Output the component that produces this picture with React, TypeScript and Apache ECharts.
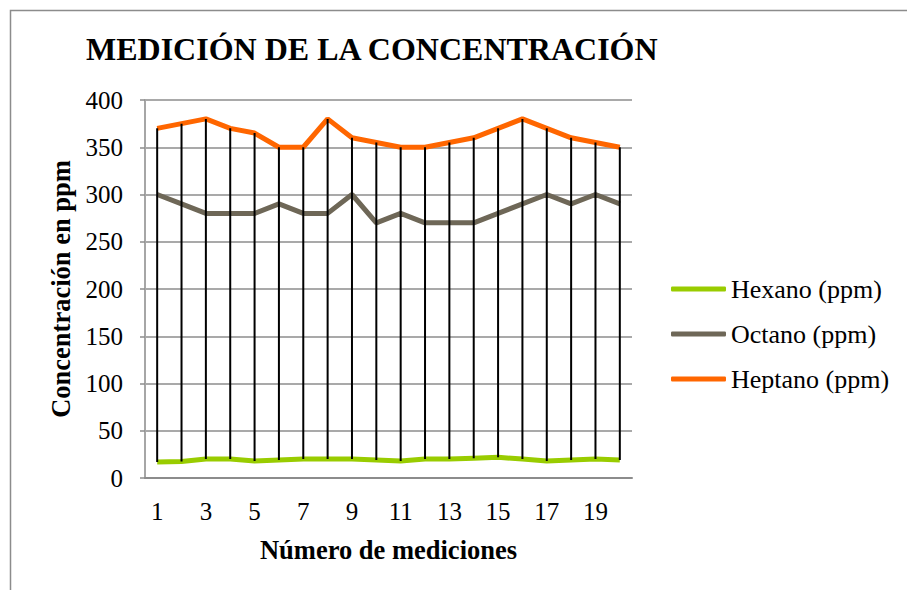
import React, { useEffect, useRef } from "react";
import * as echarts from "echarts";

const categories = ["1","2","3","4","5","6","7","8","9","10","11","12","13","14","15","16","17","18","19","20"];
const hexano = [17, 17.5, 20, 20, 18, 19, 20, 20, 20, 19, 18, 20, 20, 21, 22, 20, 18, 19, 20, 19];
const octano = [300, 290, 280, 280, 280, 290, 280, 280, 300, 270, 280, 270, 270, 270, 280, 290, 300, 290, 300, 290];
const heptano = [370, 375, 380, 370, 365, 350, 350, 380, 360, 355, 350, 350, 355, 360, 370, 380, 370, 360, 355, 350];
const seriesNames = ["Hexano (ppm)", "Octano (ppm)", "Heptano (ppm)"];
const titleText = "MEDICIÓN DE LA CONCENTRACIÓN";
const xAxisName = "Número de mediciones";
const yAxisName = "Concentración en ppm";

const FONT = "'Liberation Serif', 'Times New Roman', serif";

export default function App() {
  const ref = useRef<HTMLDivElement>(null);
  useEffect(() => {
    if (!ref.current) return;
    const chart = echarts.init(ref.current, undefined, { renderer: "svg" });
    const hl = categories.map((_, i) => [
      i,
      Math.min(hexano[i], octano[i], heptano[i]),
      Math.max(hexano[i], octano[i], heptano[i]),
    ]);
    chart.setOption({
      animation: false,
      backgroundColor: "#ffffff",
      textStyle: { fontFamily: FONT, color: "#000" },
      title: {
        text: titleText,
        left: 86,
        top: 33,
        padding: 0,
        textStyle: { fontFamily: FONT, fontSize: 32, fontWeight: "bold", color: "#000" },
      },
      graphic: [
        {
          type: "rect",
          shape: { x: 10.5, y: 10.5, width: 2000, height: 2000 },
          style: { fill: "none", stroke: "#8c8c8c", lineWidth: 1.5 },
          silent: true,
          z: -1,
        },
      ],
      legend: {
        orient: "vertical",
        left: 671,
        top: 276,
        padding: 0,
        itemWidth: 55,
        itemHeight: 5,
        itemGap: 19,
        icon: "roundRect",
        data: seriesNames,
        textStyle: { fontFamily: FONT, fontSize: 26, color: "#000" },
      },
      grid: { left: 145, top: 100, right: 275, bottom: 112 },
      xAxis: {
        type: "category",
        data: categories,
        boundaryGap: true,
        name: xAxisName,
        nameLocation: "middle",
        nameGap: 58,
        nameTextStyle: { fontFamily: FONT, fontSize: 26.5, fontWeight: "bold", color: "#000" },
        axisLine: { lineStyle: { color: "#8c8c8c", width: 2 } },
        axisTick: { show: false },
        axisLabel: { interval: 1, margin: 21, fontFamily: FONT, fontSize: 25, color: "#000" },
        splitLine: { show: false },
      },
      yAxis: {
        type: "value",
        min: 0,
        max: 400,
        interval: 50,
        name: yAxisName,
        nameLocation: "middle",
        nameGap: 70,
        nameTextStyle: { fontFamily: FONT, fontSize: 26.5, fontWeight: "bold", color: "#000" },
        axisLine: { show: true, lineStyle: { color: "#a6a6a6", width: 2 } },
        axisTick: { show: true, length: 5, lineStyle: { color: "#8c8c8c", width: 1.5 } },
        axisLabel: { margin: 22, fontFamily: FONT, fontSize: 25, color: "#000" },
        splitLine: { lineStyle: { color: "#8c8c8c", width: 1.5 } },
      },
      series: [
        {
          name: seriesNames[0],
          type: "line",
          data: hexano,
          showSymbol: false,
          symbol: "none",
          lineStyle: { color: "#99CC00", width: 5 },
          itemStyle: { color: "#99CC00" },
          z: 2,
        },
        {
          name: seriesNames[1],
          type: "line",
          data: octano,
          showSymbol: false,
          symbol: "none",
          lineStyle: { color: "#6E6757", width: 5 },
          itemStyle: { color: "#6E6757" },
          z: 2,
        },
        {
          name: seriesNames[2],
          type: "line",
          data: heptano,
          showSymbol: false,
          symbol: "none",
          lineStyle: { color: "#FF6600", width: 5 },
          itemStyle: { color: "#FF6600" },
          z: 2,
        },
        {
          name: "hilo",
          type: "custom",
          data: hl,
          encode: { x: 0, y: [1, 2] },
          z: 5,
          silent: true,
          renderItem: (params: any, api: any) => {
            const i = api.value(0);
            const lo = api.coord([i, api.value(1)]);
            const hi = api.coord([i, api.value(2)]);
            return {
              type: "line",
              shape: { x1: lo[0], y1: lo[1], x2: hi[0], y2: hi[1] },
              style: { stroke: "#000000", lineWidth: 2 },
            };
          },
        },
      ],
    });
    return () => chart.dispose();
  }, []);
  return (
    <div
      ref={ref}
      style={{ position: "fixed", left: 0, top: 0, width: 907, height: 590 }}
    />
  );
}
